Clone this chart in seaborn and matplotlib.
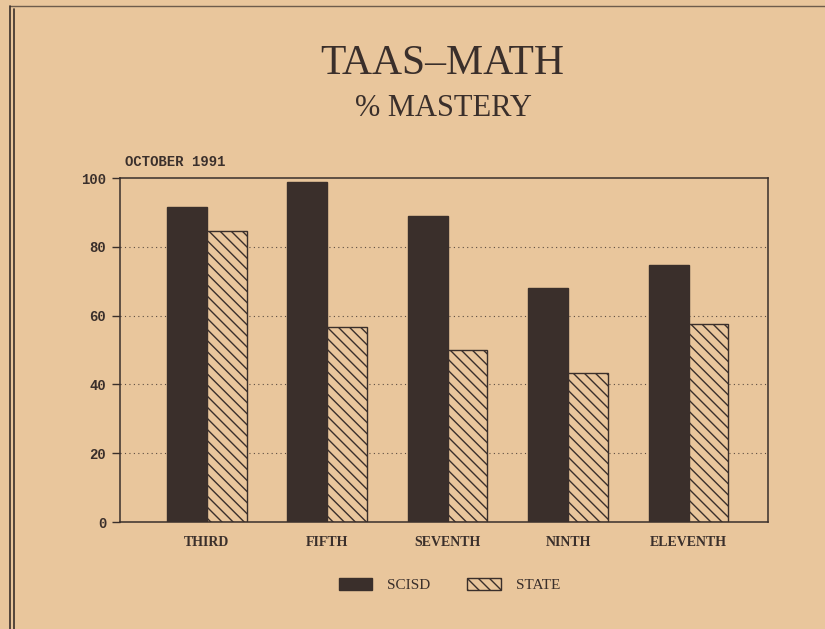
import matplotlib.pyplot as plt
import matplotlib.patches as mpatches
import seaborn as sns
import pandas as pd

grades = ['THIRD', 'FIFTH', 'SEVENTH', 'NINTH', 'ELEVENTH']
scisd = [91.5, 98.7, 89, 68, 74.6]
state = [84.5, 56.6, 50, 43.2, 57.6]
series = ['SCISD', 'STATE']
y_ticks = [0, 20, 40, 60, 80, 100]

paper = '#e9c69c'
ink = '#3a2f2b'

df = pd.DataFrame({
    'grade': grades * 2,
    'value': scisd + state,
    'group': ['SCISD'] * len(grades) + ['STATE'] * len(grades),
})

sns.set_style('white')
plt.rcParams['font.family'] = ['Liberation Mono', 'DejaVu Sans']
plt.rcParams['hatch.color'] = ink
plt.rcParams['hatch.linewidth'] = 1.0

fig = plt.figure(figsize=(8.25, 6.29), dpi=100, facecolor=paper)
ax = fig.add_axes([0.1455, 0.170, 0.7855, 0.547])
ax.set_facecolor(paper)

sns.barplot(data=df, x='grade', y='value', hue='group', order=grades,
            hue_order=series, palette=[ink, paper], width=0.66,
            edgecolor=ink, linewidth=1.0, saturation=1, legend=False, ax=ax)

# hatch the STATE bars
for bar in ax.containers[1]:
    bar.set_hatch('\\\\\\')

ax.set_ylim(0, 100)
ax.set_xlim(-0.72, 4.66)
ax.set_yticks(y_ticks)
ax.set_yticklabels([str(v) for v in y_ticks], fontsize=10, fontweight='bold', color=ink)
ax.set_xticks(range(len(grades)))
ax.set_xticklabels(grades, fontsize=10, fontweight='bold', color=ink,
                   family=['Liberation Serif', 'DejaVu Serif'])
ax.tick_params(axis='x', length=0, pad=10)
ax.tick_params(axis='y', length=6, width=1, color=ink, direction='out', pad=4, left=True)
ax.set_xlabel('')
ax.set_ylabel('')

for y in y_ticks[1:-1]:
    ax.axhline(y, color=ink, linestyle=(0, (1, 3)), linewidth=0.8, zorder=0, alpha=0.8)

for s in ax.spines.values():
    s.set_color(ink)
    s.set_linewidth(1.1)
    s.set_visible(True)

# titles
fig.text(0.536, 0.899, 'TAAS–MATH', ha='center', va='center', fontsize=30,
         color=ink, family=['Liberation Serif', 'DejaVu Serif'])
fig.text(0.537, 0.827, '% MASTERY', ha='center', va='center', fontsize=22,
         color=ink, family=['Liberation Serif', 'DejaVu Serif'])
fig.text(0.151, 0.743, 'OCTOBER 1991', ha='left', va='center', fontsize=10,
         fontweight='bold', color=ink)

# legend
handles = [mpatches.Patch(facecolor=ink, edgecolor=ink, label='SCISD'),
           mpatches.Patch(facecolor=paper, edgecolor=ink, hatch='\\\\\\', label='STATE')]
fig.legend(handles=handles, loc='center', bbox_to_anchor=(0.545, 0.07), ncol=2,
           frameon=False, handlelength=2.2, handleheight=0.9, columnspacing=2.4,
           handletextpad=1.0, prop={'family': ['Liberation Serif', 'DejaVu Serif'], 'size': 11},
           labelcolor=ink)

# newspaper border lines
fig.add_artist(plt.Line2D([0.0127, 0.0127], [0, 0.99], color=ink, linewidth=1.2))
fig.add_artist(plt.Line2D([0.0175, 0.0175], [0, 0.985], color=ink, linewidth=1.2))
fig.add_artist(plt.Line2D([0.0127, 1.0], [0.99, 0.99], color=ink, linewidth=1.0, alpha=0.7))

fig.savefig('out.png', dpi=100, facecolor=paper)
